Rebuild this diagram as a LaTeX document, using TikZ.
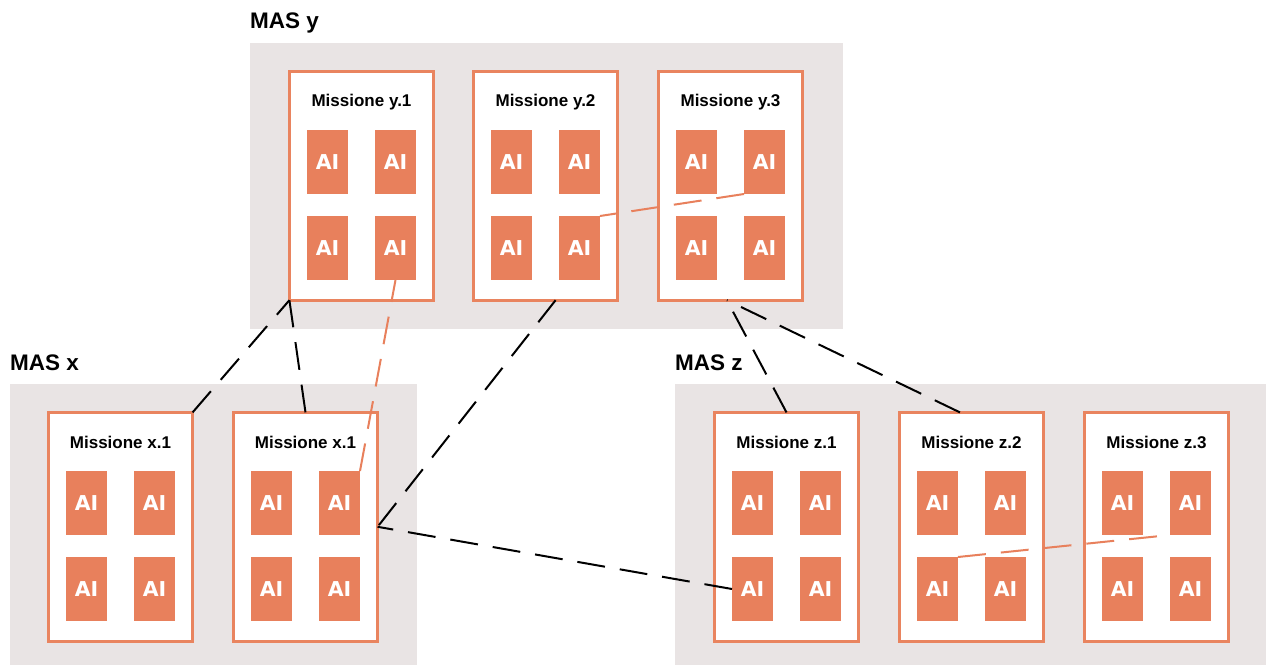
\documentclass[tikz,border=0pt]{standalone}
\usepackage{fontspec}
\setmainfont{Liberation Sans}
\newfontfamily\aifont{DejaVu Sans}
\usetikzlibrary{calc}
\definecolor{orng}{HTML}{E8805C}
\definecolor{bord}{HTML}{E9845F}
\definecolor{bggrey}{HTML}{E9E4E4}
\tikzset{
  masbg/.style={fill=bggrey, draw=none},
  maslabel/.style={anchor=base west, inner sep=0pt, font=\fontsize{22.5}{27}\selectfont\bfseries},
  mbox/.style={draw=bord, line width=2.8pt, fill=white, minimum width=144.2pt, minimum height=228.8pt, inner sep=0pt, outer sep=0pt, anchor=north west},
  mtitle/.style={anchor=base, inner sep=0pt, font=\fontsize{17}{20}\selectfont\bfseries},
  aibox/.style={fill=orng, draw=none, minimum width=41pt, minimum height=64pt, inner sep=0pt, outer sep=0pt, text=white, font=\aifont\fontsize{20.5}{24}\selectfont\bfseries},
  blk/.style={draw=black, line width=2pt, dash pattern=on 28pt off 15pt},
  org/.style={draw=orng, line width=2pt, dash pattern=on 28pt off 15pt}
}
\newcommand\missionbox[4]{%
  \node[mbox] (#1) at (#2+1.4, #3+1.4) {};
  \node[mtitle] (#1-t) at (#2+73.5, #3+37) {#4};
  \node[aibox] (#1-a) at (#2+39.5, #3+92) {AI};
  \node[aibox] (#1-b) at (#2+107.5, #3+92) {AI};
  \node[aibox] (#1-c) at (#2+39.5, #3+178) {AI};
  \node[aibox] (#1-d) at (#2+107.5, #3+178) {AI};
}
\begin{document}
\begin{tikzpicture}[x=1pt, y=-1pt]
  \useasboundingbox (0,0) rectangle (1266,666);
  % backgrounds
  \fill[masbg] (250,43) rectangle (843,329);
  \fill[masbg] (10,384) rectangle (417,665);
  \fill[masbg] (675,384) rectangle (1266,665);
  % labels
  \node[maslabel] (labY) at (250,29) {MAS y};
  \node[maslabel] (labX) at (10,370) {MAS x};
  \node[maslabel] (labZ) at (675,370) {MAS z};
  % missions
  \missionbox{my1}{288}{70}{Missione y.1}
  \missionbox{my2}{472}{70}{Missione y.2}
  \missionbox{my3}{657}{70}{Missione y.3}
  \missionbox{mx1}{47}{411}{Missione x.1}
  \missionbox{mx2}{232}{411}{Missione x.1}
  \missionbox{mz1}{713}{411}{Missione z.1}
  \missionbox{mz2}{898}{411}{Missione z.2}
  \missionbox{mz3}{1083}{411}{Missione z.3}
  % helper points
  \coordinate (my2s) at ($(my2.south west)!0.57!(my2.south east)$);
  \coordinate (my3s) at ($(my3.south west)!0.475!(my3.south east)$);
  \coordinate (mz2n) at ($(mz2.north west)!0.42!(mz2.north east)$);
  % connectors
  \draw[blk] (mx1.north east) -- (my1.south west);
  \draw[blk] (mx2.north) -- (my1.south west);
  \draw[org] (mx2-b.north east) -- (my1-d.south);
  \draw[blk] (my2s) -- (mx2.east);
  \draw[blk] (mz1-c.west) -- (mx2.east);
  \draw[org] (my3-b.south west) -- (my2-d.north east);
  \draw[blk] (mz1.north) -- (my3s);
  \draw[blk] (mz2n) -- (my3s);
  \draw[org] (mz2-c.north east) -- (mz3-b.south west);
\end{tikzpicture}
\end{document}
